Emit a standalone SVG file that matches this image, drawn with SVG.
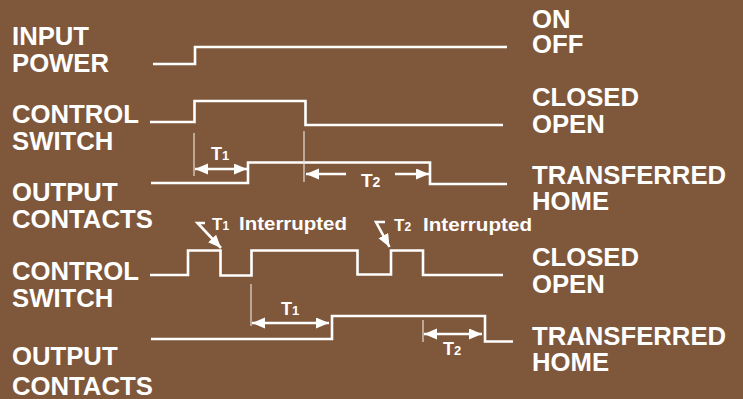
<svg xmlns="http://www.w3.org/2000/svg" width="743" height="399" viewBox="0 0 743 399">
<defs>
<style>
.lbl{font-family:"Liberation Sans",Arial,sans-serif;font-weight:bold;font-size:25.7px;fill:#fff}
.sm{font-family:"Liberation Sans",Arial,sans-serif;font-weight:bold;fill:#fff}
.wave{fill:none;stroke:#fff;stroke-width:2.6;stroke-linejoin:miter}
.tick{fill:none;stroke:#e6dcd4;stroke-width:1.2}
.arr{fill:none;stroke:#fff;stroke-width:2.6}
</style>
<marker id="ah" markerUnits="userSpaceOnUse" markerWidth="14" markerHeight="12" refX="13" refY="5.5" orient="auto-start-reverse">
<path d="M0,0 L13,5.5 L0,11 Z" fill="#fff"/>
</marker>
</defs>
<rect width="743" height="399" fill="#7F573B"/>

<g id="labels-left">
<text class="lbl" x="12" y="45">INPUT</text>
<text class="lbl" x="12" y="72">POWER</text>
<text class="lbl" x="12" y="123">CONTROL</text>
<text class="lbl" x="12" y="150">SWITCH</text>
<text class="lbl" x="12" y="201">OUTPUT</text>
<text class="lbl" x="12" y="228">CONTACTS</text>
<text class="lbl" x="12" y="280">CONTROL</text>
<text class="lbl" x="12" y="307">SWITCH</text>
<text class="lbl" x="12" y="365">OUTPUT</text>
<text class="lbl" x="12" y="395">CONTACTS</text>
</g>

<g id="labels-right">
<text class="lbl" x="532" y="28">ON</text>
<text class="lbl" x="532" y="53">OFF</text>
<text class="lbl" x="532" y="106">CLOSED</text>
<text class="lbl" x="532" y="133">OPEN</text>
<text class="lbl" x="532" y="184">TRANSFERRED</text>
<text class="lbl" x="532" y="210">HOME</text>
<text class="lbl" x="532" y="266">CLOSED</text>
<text class="lbl" x="532" y="293">OPEN</text>
<text class="lbl" x="532" y="345">TRANSFERRED</text>
<text class="lbl" x="532" y="371">HOME</text>
</g>

<g id="waveforms">
<polyline id="input-power" class="wave" points="153,64 195,64 195,47 507,47"/>
<polyline id="control-switch-1" class="wave" points="150,122 194.5,122 194.5,101 305.5,101 305.5,125 503,125"/>
<polyline id="output-contacts-1" class="wave" points="151,183 248,183 248,162.5 430,162.5 430,184 507,184"/>
<polyline id="control-switch-2" class="wave" points="150,275 188,275 188,250.5 220.5,250.5 220.5,275.5 251.5,275.5 251.5,250.5 357.5,250.5 357.5,274.5 391,274.5 391,250.5 423,250.5 423,275 503,275"/>
<polyline id="output-contacts-2" class="wave" points="151,339 332,339 332,316 485,316 485,341.5 513,341.5"/>
</g>

<g id="connectors">
<line class="tick" x1="194" y1="133" x2="194" y2="176"/>
<line class="tick" x1="304" y1="131" x2="304" y2="182"/>
<line class="tick" x1="251" y1="284" x2="251" y2="326"/>
<line class="tick" x1="423" y1="320" x2="423" y2="342"/>
<line class="arr" x1="195" y1="169" x2="247" y2="169" marker-start="url(#ah)" marker-end="url(#ah)"/>
<line class="arr" x1="346" y1="174" x2="306" y2="174" marker-end="url(#ah)"/>
<line class="arr" x1="395" y1="174" x2="429" y2="174" marker-end="url(#ah)"/>
<line class="arr" x1="252" y1="323" x2="329" y2="323" marker-start="url(#ah)" marker-end="url(#ah)"/>
<line class="arr" x1="424" y1="334" x2="482" y2="334" marker-start="url(#ah)" marker-end="url(#ah)"/>
<polyline class="arr" points="205,223 197.5,223 221,248" marker-end="url(#ah)"/>
<polyline class="arr" points="385,222 376,222 389.5,247" marker-end="url(#ah)"/>
</g>

<g id="time-labels">
<text class="sm" x="211" y="160" font-size="18">T<tspan font-size="13">1</tspan></text>
<text class="sm" x="361" y="187" font-size="19">T<tspan font-size="14">2</tspan></text>
<text class="sm" x="281" y="315" font-size="18">T<tspan font-size="13">1</tspan></text>
<text class="sm" x="443" y="355" font-size="18">T<tspan font-size="13">2</tspan></text>
<text class="sm" x="212" y="230" font-size="17">T<tspan font-size="12">1</tspan></text>
<text class="sm" x="239" y="230" font-size="19" textLength="108" lengthAdjust="spacingAndGlyphs">Interrupted</text>
<text class="sm" x="394" y="231" font-size="17">T<tspan font-size="12">2</tspan></text>
<text class="sm" x="423" y="231" font-size="19" textLength="109" lengthAdjust="spacingAndGlyphs">Interrupted</text>
</g>
</svg>
